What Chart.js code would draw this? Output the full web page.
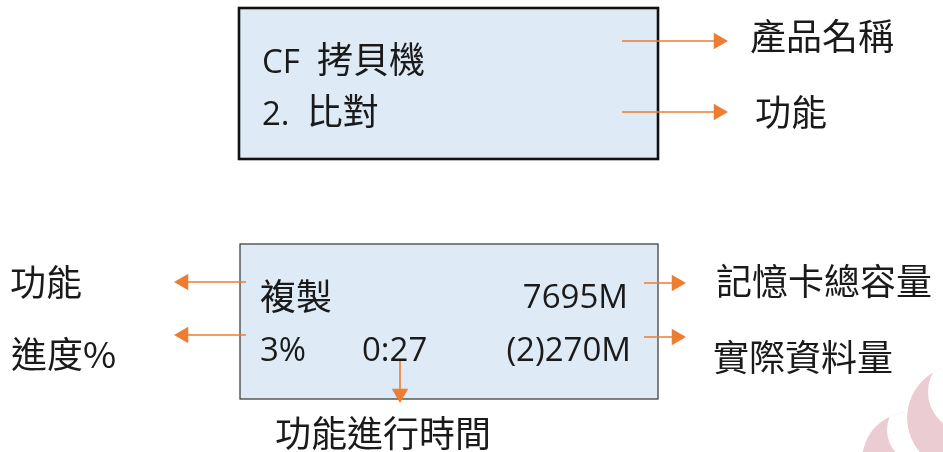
<!DOCTYPE html>
<html>
<head>
<meta charset="utf-8">
<script src="https://cdn.jsdelivr.net/npm/chart.js@4/dist/chart.umd.min.js"></script>
<style>
  html, body { margin: 0; padding: 0; background: #fff; }
  #diagram { display: block; }
</style>
</head>
<body>
<canvas id="diagram" width="943" height="452"></canvas>
<script>
// diagram space = picture pixels (x to the right, y downwards)
const boxLeft   = [239, 240];
const boxTop    = [8, 244];
const boxRight  = [658, 658];
const boxBottom = [159, 399];

// text shown on the two LCD screens
const screenText  = ['CF  拷貝機', '2.  比對', '複製', '7695M', '3%', '0:27', '(2)270M'];
const screenX     = [262, 262, 260, 628, 260, 362, 631];
const screenY     = [73, 125, 310, 308, 361, 361, 361];
const screenAlign = ['left', 'left', 'left', 'right', 'left', 'left', 'right'];

// callout labels
const calloutText = ['產品名稱', '功能', '功能', '進度%', '功能進行時間', '記憶卡總容量', '實際資料量'];
const calloutX    = [750, 755, 10, 11, 275, 716, 713];
const calloutY    = [50, 126, 296, 368, 447, 295, 371];

// arrows: start point -> tip
const arrowFromX = [622, 622, 246, 246, 400, 644, 644];
const arrowFromY = [41, 112, 282, 335, 361, 283, 337];
const arrowToX   = [728, 728, 174, 174, 400, 686, 686];
const arrowToY   = [41, 112, 282, 335, 403, 283, 337];

// faint watermark crescents: outer circle minus inner circle
const markOuterX = [960, 910];
const markOuterY = [418, 460];
const markOuterR = [53, 48];
const markInnerX = [968, 920];
const markInnerY = [392, 430];
const markInnerR = [40, 33];

const ORANGE = '#ED7D31';
const HEAD = 9.5;
const LATIN = '33px "Open Sans"';
const CJK = '36px "Noto Sans CJK TC"';
const isCjk = ch => /[\u2E80-\u9FFF\uF900-\uFAFF]/.test(ch);

function runsOf(text, cjkOnly) {
    const runs = [];
    for (const ch of text) {
        const font = (cjkOnly || isCjk(ch)) ? CJK : LATIN;
        if (runs.length && runs[runs.length - 1].font === font) runs[runs.length - 1].s += ch;
        else runs.push({ font, s: ch });
    }
    return runs;
}

function drawMixed(ctx, text, x, y, align, cjkOnly) {
    const runs = runsOf(text, cjkOnly);
    let w = 0;
    runs.forEach(r => { ctx.font = r.font; r.w = ctx.measureText(r.s).width; w += r.w; });
    let cx = align === 'right' ? x - w : x;
    ctx.textAlign = 'left';
    ctx.textBaseline = 'alphabetic';
    runs.forEach(r => { ctx.font = r.font; ctx.fillText(r.s, cx, y); cx += r.w; });
}

// arrow datasets: line to the centre of a triangle point whose tip lands on the arrow end
const datasets = arrowFromX.map((x0, i) => {
    const dx = arrowToX[i] - x0, dy = arrowToY[i] - arrowFromY[i];
    const len = Math.hypot(dx, dy);
    const ex = arrowToX[i] - dx / len * HEAD, ey = arrowToY[i] - dy / len * HEAD;
    const rot = Math.atan2(dx, -dy) * 180 / Math.PI;
    return {
        data: [{ x: x0, y: arrowFromY[i] }, { x: ex, y: ey }],
        showLine: true,
        borderColor: ORANGE,
        borderWidth: 1.6,
        pointRadius: [0, HEAD],
        pointStyle: 'triangle',
        rotation: [0, rot],
        pointBackgroundColor: ORANGE,
        pointBorderColor: ORANGE,
        pointBorderWidth: 0,
        clip: false
    };
});

const diagramPlugin = {
    id: 'diagram',
    beforeDatasetsDraw(chart) {
        const { ctx, scales: { x, y } } = chart;
        const px = v => x.getPixelForValue(v), py = v => y.getPixelForValue(v);
        // watermark
        markOuterX.forEach((ox, i) => {
            const ro = px(ox + markOuterR[i]) - px(ox);
            const ri = px(markInnerX[i] + markInnerR[i]) - px(markInnerX[i]);
            ctx.save();
            ctx.beginPath();
            ctx.arc(px(ox), py(markOuterY[i]), ro, 0, Math.PI * 2);
            ctx.clip();
            ctx.beginPath();
            ctx.arc(px(ox), py(markOuterY[i]), ro, 0, Math.PI * 2);
            ctx.moveTo(px(markInnerX[i]) + ri, py(markInnerY[i]));
            ctx.arc(px(markInnerX[i]), py(markInnerY[i]), ri, 0, Math.PI * 2);
            ctx.fillStyle = '#ecccd3';
            ctx.fill('evenodd');
            ctx.restore();
        });
        // screens
        ctx.save();
        boxLeft.forEach((l, i) => {
            const x0 = px(l), x1 = px(boxRight[i]);
            const y0 = py(boxTop[i]), y1 = py(boxBottom[i]);
            ctx.fillStyle = '#DEEAF6';
            ctx.fillRect(x0, y0, x1 - x0, y1 - y0);
            ctx.strokeStyle = i === 0 ? '#111' : '#333';
            ctx.lineWidth = i === 0 ? 2.6 : 1.2;
            ctx.strokeRect(x0, y0, x1 - x0, y1 - y0);
        });
        ctx.restore();
    },
    afterDatasetsDraw(chart) {
        const { ctx, scales: { x, y } } = chart;
        ctx.save();
        ctx.fillStyle = '#1a1a1a';
        screenText.forEach((t, i) => {
            drawMixed(ctx, t, x.getPixelForValue(screenX[i]), y.getPixelForValue(screenY[i]), screenAlign[i], false);
        });
        calloutText.forEach((t, i) => {
            drawMixed(ctx, t, x.getPixelForValue(calloutX[i]), y.getPixelForValue(calloutY[i]), 'left', true);
        });
        ctx.restore();
    }
};

new Chart(document.getElementById('diagram'), {
    type: 'scatter',
    data: { datasets },
    options: {
        responsive: false,
        animation: false,
        layout: { padding: 0, autoPadding: false },
        scales: {
            x: { type: 'linear', min: 0, max: 943, display: false },
            y: { type: 'linear', min: 0, max: 452, reverse: true, display: false }
        },
        plugins: { legend: { display: false }, tooltip: { enabled: false } }
    },
    plugins: [diagramPlugin]
});
</script>
</body>
</html>
